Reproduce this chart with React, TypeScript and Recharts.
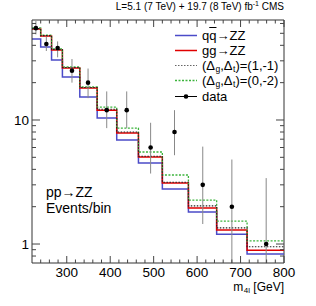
import React from 'react';
import { ComposedChart, Line, Scatter, ErrorBar, XAxis, YAxis, ReferenceLine } from 'recharts';

// bin edges of the m4l histogram (GeV)
const binEdges = [220, 240, 265, 290, 330, 370, 415, 465, 520, 580, 645, 715, 800];

// expected events per bin
const qqZZ = [45, 38.8, 30.5, 22.2, 15.3, 10.4, 6.9, 4.5, 2.78, 1.81, 1.2, 0.83];
const ggZZ = [54.2, 47.6, 36.7, 26.3, 18.1, 12.0, 7.86, 5.03, 3.1, 1.95, 1.3, 0.89];
const anom1m1 = [54.5, 47.9, 37.0, 26.5, 18.3, 12.2, 8.0, 5.1, 3.15, 2.03, 1.35, 0.95];
const anom0m2 = [55.2, 48.4, 37.4, 26.8, 18.5, 12.7, 8.6, 5.52, 3.6, 2.26, 1.53, 1.06];

// observed data
const dataMass = [229, 253, 279, 312, 349, 392, 438, 493, 548, 613, 680, 759];
const dataEvents = [55, 41, 38, 25, 20, 12, 12, 6, 8, 3, 2, 1];
const errLow = [6, 5, 6, 5, 5, 3.4, 3.4, 2.3, 2.8, 1.55, 1.3, 0.3];
const errHigh = [8, 6, 5, 6, 6, 5, 5, 3.5, 4, 3.1, 2.8, 2.4];

const xTicks = [240, 260, 280, 300, 320, 340, 360, 380, 400, 420, 440, 460, 480, 500, 520, 540, 560, 580, 600, 620, 640, 660, 680, 700, 720, 740, 760, 780, 800];
const yTicks = [0.8, 0.9, 1, 2, 3, 4, 5, 6, 7, 8, 9, 10, 20, 30, 40, 50, 60];

const W = 316;
const H = 306;
const LEFT = 32;
const RIGHT = 284;
const TOP = 20;
const BOTTOM = 263;
const FONT = '"Liberation Sans", Arial, Helvetica, sans-serif';

const steps = (vals: number[]) =>
  binEdges.map((e, i) => ({ x: e, y: vals[Math.min(i, vals.length - 1)] }));

const points = dataMass.map((m, i) => ({ x: m, y: dataEvents[i], err: [errLow[i], errHigh[i]] }));

const XTick = (props: any) => {
  const { x, payload } = props;
  const v = payload.value;
  const major = v % 100 === 0;
  const len = major ? 7 : 3.5;
  return (
    <g>
      <line x1={x} x2={x} y1={BOTTOM} y2={BOTTOM - len} stroke="#444" />
      <line x1={x} x2={x} y1={TOP} y2={TOP + len} stroke="#444" />
      {major && (
        <text x={x} y={BOTTOM + 14} textAnchor="middle" fontSize={13.5} fontFamily={FONT} fill="#000">
          {v}
        </text>
      )}
    </g>
  );
};

const YTick = (props: any) => {
  const { y, payload } = props;
  const v = payload.value;
  const major = v === 1 || v === 10;
  const len = major ? 8 : 4;
  return (
    <g>
      <line x1={LEFT} x2={LEFT + len} y1={y} y2={y} stroke="#444" />
      <line x1={RIGHT} x2={RIGHT - len} y1={y} y2={y} stroke="#444" />
      {major && (
        <text x={LEFT - 3} y={y + 5} textAnchor="end" fontSize={13.5} fontFamily={FONT} fill="#000">
          {v}
        </text>
      )}
    </g>
  );
};

const Dot = (p: any) => <circle cx={p.cx} cy={p.cy} r={2.3} fill="#000" />;

const Sub = ({ children, size = 8.5 }: { children: React.ReactNode; size?: number }) => (
  <span style={{ fontSize: size, position: 'relative', top: 2, lineHeight: 0, marginLeft: 0.5 }}>{children}</span>
);

const legendRows = [
  { key: 'qq', color: '#4b4bc8', dash: undefined, width: 1.5, label: <span>q<span style={{ textDecoration: 'overline' }}>q</span>→ZZ</span> },
  { key: 'gg', color: '#e00000', dash: undefined, width: 1.5, label: <span>gg→ZZ</span> },
  { key: 'a1', color: '#666', dash: '1.5 1.5', width: 1.2, label: <span>(Δ<Sub>g</Sub>,Δ<Sub>t</Sub>)=(1,-1)</span> },
  { key: 'a2', color: '#3cb43c', dash: '2 1.5', width: 1.3, label: <span>(Δ<Sub>g</Sub>,Δ<Sub>t</Sub>)=(0,-2)</span> },
];

const Legend = () => (
  <div style={{ position: 'absolute', left: 174, top: 28, fontFamily: FONT, fontSize: 13, color: '#000' }}>
    {legendRows.map((r, i) => (
      <div key={r.key} style={{ position: 'absolute', left: 0, top: i * 15, height: 15, lineHeight: '15px', whiteSpace: 'nowrap', display: 'flex', alignItems: 'center' }}>
        <svg width={24} height={15} style={{ display: 'block' }}>
          <line x1={1} x2={23} y1={7.5} y2={7.5} stroke={r.color} strokeWidth={r.width} strokeDasharray={r.dash} />
        </svg>
        <span style={{ marginLeft: 4 }}>{r.label}</span>
      </div>
    ))}
    <div style={{ position: 'absolute', left: 0, top: 61, height: 15, lineHeight: '15px', whiteSpace: 'nowrap', display: 'flex', alignItems: 'center' }}>
      <svg width={24} height={15} style={{ display: 'block' }}>
        <line x1={1} x2={23} y1={7.5} y2={7.5} stroke="#000" strokeWidth={1} />
        <circle cx={12} cy={7.5} r={2.3} fill="#000" />
      </svg>
      <span style={{ marginLeft: 4 }}>data</span>
    </div>
  </div>
);

export default function App() {
  return (
    <div style={{ position: 'absolute', left: 0, top: 0, width: W, height: H, background: '#fff' }}>
      <ComposedChart width={W} height={H} margin={{ top: TOP, right: W - RIGHT, bottom: 0, left: 0 }}>
        <XAxis
          type="number"
          dataKey="x"
          domain={[220, 800]}
          ticks={xTicks}
          interval={0}
          allowDataOverflow
          height={H - BOTTOM}
          tickSize={0}
          tickMargin={0}
          tickLine={false}
          axisLine={{ stroke: '#333' }}
          tick={<XTick />}
        />
        <YAxis
          type="number"
          dataKey="y"
          scale="log"
          domain={[0.703, 64]}
          ticks={yTicks}
          interval={0}
          allowDataOverflow
          width={LEFT}
          tickSize={0}
          tickMargin={0}
          tickLine={false}
          axisLine={{ stroke: '#333' }}
          tick={<YTick />}
        />
        <ReferenceLine y={64} stroke="#333" />
        <ReferenceLine x={800} stroke="#333" />
        <Line data={steps(qqZZ)} dataKey="y" type="stepAfter" stroke="#4b4bc8" strokeWidth={1.5} dot={false} activeDot={false} isAnimationActive={false} />
        <Line data={steps(ggZZ)} dataKey="y" type="stepAfter" stroke="#e00000" strokeWidth={1.5} dot={false} activeDot={false} isAnimationActive={false} />
        <Line data={steps(anom0m2)} dataKey="y" type="stepAfter" stroke="#3cb43c" strokeWidth={1.3} strokeDasharray="2 1.5" dot={false} activeDot={false} isAnimationActive={false} />
        <Line data={steps(anom1m1)} dataKey="y" type="stepAfter" stroke="#222" strokeWidth={1.1} strokeDasharray="1.5 1.5" dot={false} activeDot={false} isAnimationActive={false} />
        <Scatter data={points} dataKey="y" shape={<Dot />} isAnimationActive={false}>
          <ErrorBar dataKey="err" direction="y" width={0} stroke="#888" strokeWidth={1} isAnimationActive={false} />
        </Scatter>
      </ComposedChart>
      <div style={{ position: 'absolute', right: W - RIGHT, top: 1, fontFamily: FONT, fontSize: 10, whiteSpace: 'nowrap', color: '#000' }}>
        L=5.1 (7 TeV) + 19.7 (8 TeV) fb<span style={{ fontSize: 7, position: 'relative', top: -4, lineHeight: 0 }}>-1</span> CMS
      </div>
      <Legend />
      <div style={{ position: 'absolute', left: 46, top: 184, fontFamily: FONT, fontSize: 14, lineHeight: '16px', color: '#000' }}>
        <div>pp→ZZ</div>
        <div>Events/bin</div>
      </div>
      <div style={{ position: 'absolute', right: W - RIGHT, top: 281, fontFamily: FONT, fontSize: 12, lineHeight: '12px', whiteSpace: 'nowrap', color: '#000' }}>
        m<Sub size={8}>4l</Sub> [GeV]
      </div>
    </div>
  );
}
